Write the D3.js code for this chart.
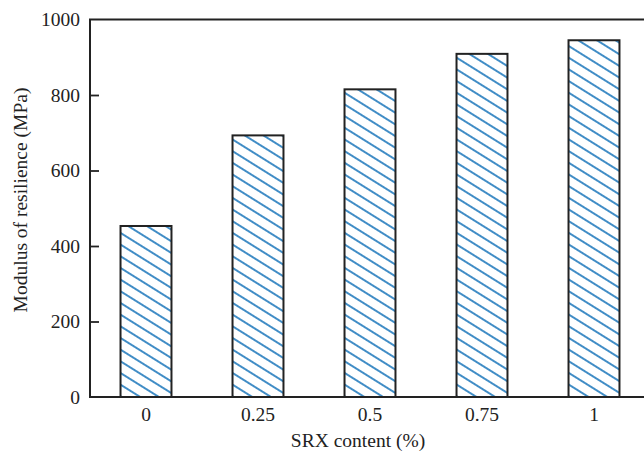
<!DOCTYPE html>
<html><head><meta charset="utf-8">
<script src="https://cdn.jsdelivr.net/npm/d3@7"></script>
<style>body{margin:0;background:#fff}svg{display:block}</style>
</head><body>
<svg id="c" width="644" height="453"></svg>
<script>
const categories = ["0", "0.25", "0.5", "0.75", "1"];
const values = [453, 693, 815, 909, 945];
const yTicks = [0, 200, 400, 600, 800, 1000];
const xTitle = "SRX content (%)";
const yTitle = "Modulus of resilience (MPa)";

const svg = d3.select("#c");
const L = 90, T = 19.5, B = 397, R = 650;
const font = "'Liberation Serif', 'DejaVu Serif', serif";
const fs = 19.5;

const x = d3.scaleBand().domain(categories).range([L, R]).paddingInner(0.545).paddingOuter(0.2725);
const y = d3.scaleLinear().domain([0, 1000]).range([B, T]);

const defs = svg.append("defs");
const pat = defs.append("pattern").attr("id", "hatch").attr("patternUnits", "userSpaceOnUse")
  .attr("width", 20).attr("height", 9.9).attr("patternTransform", "rotate(32)");
pat.append("line").attr("x1", 0).attr("x2", 20).attr("y1", 4.95).attr("y2", 4.95)
  .attr("stroke", "#1372b8").attr("stroke-width", 1.6);

// bars
svg.append("g").selectAll("rect").data(values).join("rect")
  .attr("x", (d, i) => x(categories[i]))
  .attr("width", x.bandwidth())
  .attr("y", d => y(d))
  .attr("height", d => B - y(d))
  .attr("fill", "url(#hatch)")
  .attr("stroke", "#222").attr("stroke-width", 2);

// y axis
const yAxis = svg.append("g").attr("transform", `translate(${L},0)`)
  .call(d3.axisRight(y).tickValues(yTicks).tickSize(9).tickFormat(d3.format("d")));
yAxis.select(".domain").remove();
yAxis.selectAll(".tick line").attr("stroke", "#222").attr("stroke-width", 1.8);
yAxis.selectAll(".tick text").attr("x", -10).attr("text-anchor", "end")
  .attr("font-family", font).attr("font-size", fs).attr("fill", "#222");
yAxis.selectAll(".tick").filter(d => d === 0 || d === 1000).select("line").remove();

// x axis
const xAxis = svg.append("g").attr("transform", `translate(0,${B})`)
  .call(d3.axisBottom(x).tickSize(0));
xAxis.select(".domain").remove();
xAxis.selectAll(".tick text").attr("y", 24).attr("dy", 0)
  .attr("font-family", font).attr("font-size", fs).attr("fill", "#222");

// frame lines
svg.append("line").attr("x1", L).attr("x2", L).attr("y1", T).attr("y2", B + 1)
  .attr("stroke", "#222").attr("stroke-width", 2);
svg.append("line").attr("x1", L - 1).attr("x2", 644).attr("y1", B).attr("y2", B)
  .attr("stroke", "#222").attr("stroke-width", 2.2);
svg.append("line").attr("x1", L - 1).attr("x2", 644).attr("y1", T).attr("y2", T)
  .attr("stroke", "#222").attr("stroke-width", 2.2);

// titles
svg.append("text").attr("x", 358).attr("y", 447).attr("text-anchor", "middle")
  .attr("font-family", font).attr("font-size", fs).attr("fill", "#222").text(xTitle);
svg.append("text").attr("transform", `translate(20,200) rotate(-90)`)
  .attr("text-anchor", "middle").attr("dy", "0.35em")
  .attr("font-family", font).attr("font-size", fs).attr("fill", "#222").text(yTitle);
</script>
</body></html>
